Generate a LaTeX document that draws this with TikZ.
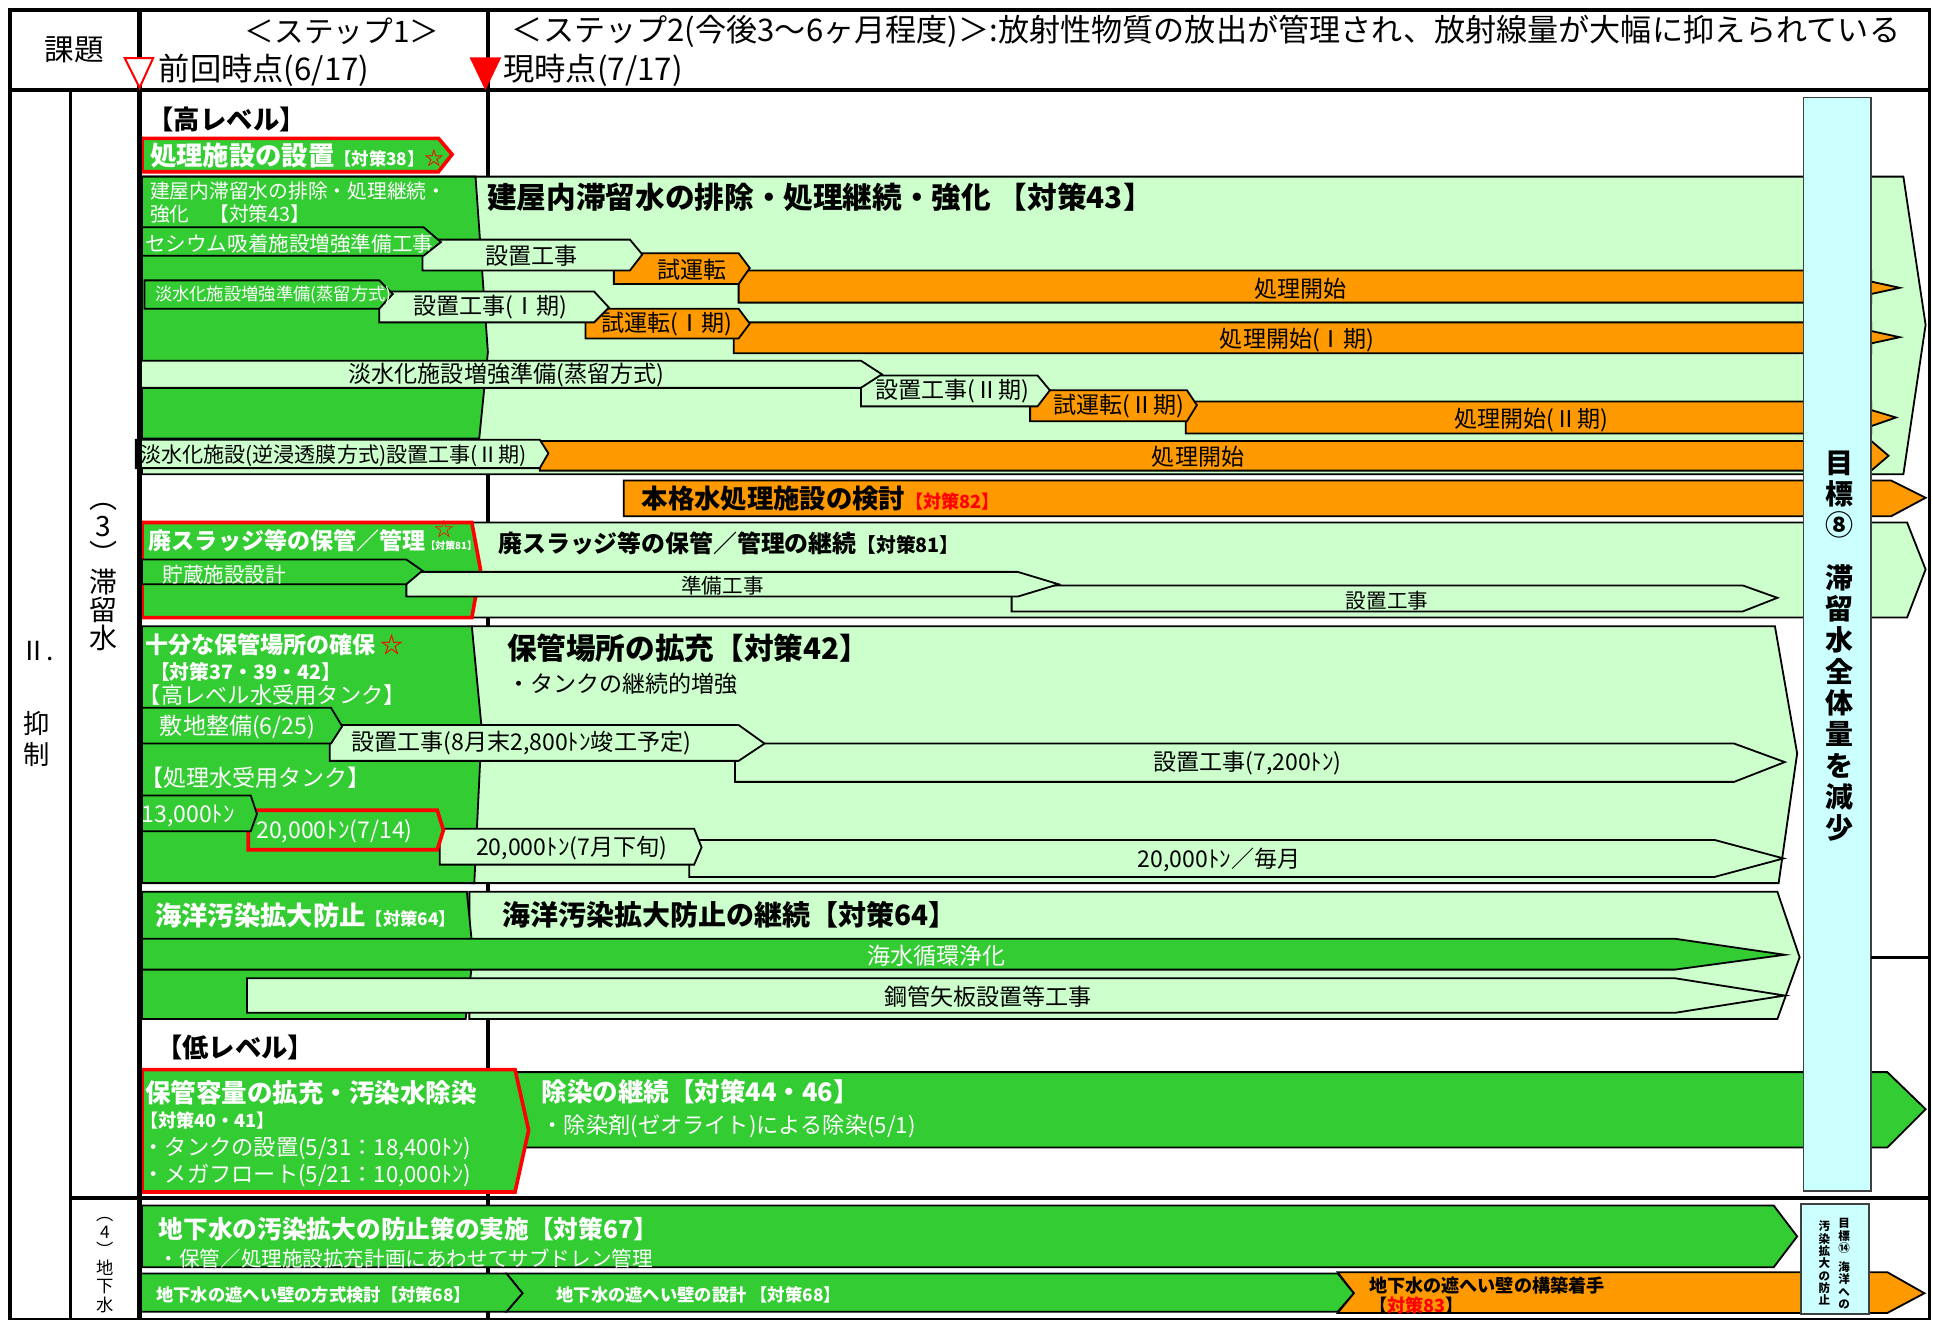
\documentclass[tikz,border=0pt]{standalone}
\usepackage{fontspec}
\setmainfont{Noto Sans CJK JP}
\definecolor{dkgreen}{RGB}{51,204,51}
\definecolor{ltgreen}{RGB}{204,255,204}
\definecolor{orng}{RGB}{255,153,0}
\definecolor{goalcyan}{RGB}{204,255,255}
\newcommand{\fsz}[2]{\fontsize{#1}{#2}\selectfont}
\tikzset{every picture/.style={line width=0.75pt}}
\tikzset{
  dkbar/.style={fill=dkgreen,draw=black,line width=1.1pt},
  ltbar/.style={fill=ltgreen,draw=black,line width=1.1pt},
  orbar/.style={fill=orng,draw=black,line width=1.1pt},
  redbar/.style={fill=dkgreen,draw=red,line width=2.2pt},
  gridln/.style={line width=2pt},
  goalbox/.style={fill=goalcyan,draw=black!75,line width=1pt},
  wt/.style={text=white,inner sep=0.75pt},
  bk/.style={text=black,inner sep=0.75pt},
}

\begin{document}
\begin{tikzpicture}[x=0.75pt,y=0.75pt,yscale=-1,xscale=1]
		\useasboundingbox (0,0) rectangle (1565,1068);
		
		%Lines under the boxes
		\draw [gridln] (395,8) -- (395,1068) ;
		\draw [gridln] (57,73) -- (57,1068) ;
		
		%Shape: Arrow, treatment facility
		\draw [redbar] (115,112) -- (355,112) -- (366,125) -- (355,139) -- (115,139) -- cycle ;
		
		%Shape: Arrow, high level water
		\draw [ltbar] (115,143) -- (1541,143) -- (1559,263) -- (1541,384) -- (115,384) -- cycle ;
		\draw [dkbar] (115,143) -- (385,143) -- (395,285) -- (388,355) -- (115,355) -- cycle ;
		%row a
		\draw [orbar] (598,219) -- (1515,219) -- (1515,228) -- (1538,233) -- (1515,238) -- (1515,245) -- (598,245) -- cycle ;
		\draw [orbar] (497,205) -- (598,205) -- (607,217) -- (598,230) -- (497,230) -- cycle ;
		\draw [ltbar] (342,194) -- (510,194) -- (520,206) -- (510,219) -- (342,219) -- cycle ;
		\draw [dkbar] (115,184) -- (343,184) -- (357,196) -- (343,207) -- (115,207) -- cycle ;
		%row b
		\draw [orbar] (594,261) -- (1515,261) -- (1515,268) -- (1538,273) -- (1515,278) -- (1515,286) -- (594,286) -- cycle ;
		\draw [orbar] (474,250) -- (598,250) -- (607,262) -- (598,274) -- (474,274) -- cycle ;
		\draw [ltbar] (307,236) -- (481,236) -- (493,249) -- (481,261) -- (307,261) -- cycle ;
		\draw [dkbar] (117,227) -- (307,227) -- (318,238) -- (307,250) -- (117,250) -- cycle ;
		%row c
		\draw [orbar] (960,325) -- (1515,325) -- (1515,332) -- (1535,338) -- (1515,345) -- (1515,351) -- (960,351) -- cycle ;
		\draw [orbar] (834,316) -- (961,316) -- (969,328) -- (961,341) -- (834,341) -- cycle ;
		\draw [ltbar] (697,304) -- (840,304) -- (850,316) -- (840,329) -- (697,329) -- cycle ;
		\draw [ltbar] (114,292) -- (697,292) -- (714,303) -- (697,314) -- (114,314) -- cycle ;
		%row d
		\draw [orbar] (437,357) -- (1515,357) -- (1529,369) -- (1515,381) -- (437,381) -- cycle ;
		\draw [ltbar] (110,356) -- (437,356) -- (444,367) -- (437,379) -- (110,379) -- cycle ;
		
		%Shape: Arrow, full scale plant
		\draw [orbar] (505,389) -- (1531,389) -- (1559,403) -- (1531,418) -- (505,418) -- cycle ;
		
		%Shape: Arrow, sludge
		\draw [ltbar] (380,423) -- (1544,423) -- (1559,461) -- (1544,500) -- (380,500) -- cycle ;
		\draw [redbar] (115,423) -- (382,423) -- (389,461) -- (382,500) -- (115,500) -- cycle ;
		\draw [ltbar] (819,474) -- (1411,474) -- (1439,484) -- (1411,495) -- (819,495) -- cycle ;
		\draw [ltbar] (329,463) -- (824,463) -- (857,473) -- (824,483) -- (329,483) -- cycle ;
		\draw [dkbar] (115,453) -- (329,453) -- (342,462) -- (329,473) -- (115,473) -- cycle ;
		
		%Shape: Arrow, storage
		\draw [ltbar] (382,507) -- (1437,507) -- (1455,610) -- (1440,715) -- (382,715) -- cycle ;
		\draw [dkbar] (115,507) -- (382,507) -- (390,590) -- (384,715) -- (115,715) -- cycle ;
		\draw [ltbar] (558,680) -- (1388,680) -- (1444,695) -- (1388,710) -- (558,710) -- cycle ;
		\draw [ltbar] (356,671) -- (562,671) -- (568,686) -- (562,700) -- (356,700) -- cycle ;
		\draw [redbar] (201,656) -- (354,656) -- (359,672) -- (354,688) -- (201,688) -- cycle ;
		\draw [dkbar] (115,644) -- (203,644) -- (208,659) -- (203,673) -- (115,673) -- cycle ;
		\draw [ltbar] (595,602) -- (1404,602) -- (1445,617) -- (1404,633) -- (595,633) -- cycle ;
		\draw [ltbar] (267,587) -- (598,587) -- (619,602) -- (598,616) -- (267,616) -- cycle ;
		\draw [dkbar] (115,573) -- (268,573) -- (277,588) -- (268,602) -- (115,602) -- cycle ;
		
		%Shape: Arrow, sea
		\draw [ltbar] (380,722) -- (1439,722) -- (1457,775) -- (1439,825) -- (380,825) -- cycle ;
		\draw [dkbar] (115,722) -- (378,722) -- (383,773) -- (377,825) -- (115,825) -- cycle ;
		\draw [dkbar] (115,760) -- (1356,760) -- (1445,773) -- (1356,785) -- (115,785) -- cycle ;
		\draw [ltbar] (200,792) -- (1356,792) -- (1445,806) -- (1356,820) -- (200,820) -- cycle ;
		
		%Shape: Arrow, low level water
		\draw [dkbar] (417,868) -- (1528,868) -- (1559,898) -- (1528,929) -- (417,929) -- cycle ;
		\draw [redbar] (115,866) -- (417,866) -- (428,915) -- (417,965) -- (115,965) -- cycle ;
		
		%Shape: Arrow, ground water
		\draw [dkbar] (115,976) -- (1436,976) -- (1455,1001) -- (1436,1026) -- (115,1026) -- cycle ;
		\draw [orbar] (1083,1030) -- (1528,1030) -- (1558,1047) -- (1528,1063) -- (1083,1063) -- (1096,1047) -- cycle ;
		\draw [dkbar] (410,1031) -- (1083,1031) -- (1096,1047) -- (1083,1062) -- (410,1062) -- (423,1047) -- cycle ;
		\draw [dkbar] (114,1031) -- (410,1031) -- (423,1047) -- (410,1062) -- (114,1062) -- cycle ;
		
		%Shape: Goal boxes
		\draw [goalbox] (1460,79) rectangle (1515,964) ;
		\draw [goalbox] (1458,975) rectangle (1513,1064) ;
		
		%Frame
		\draw [gridln] (8,8) rectangle (1562,1068) ;
		\draw [gridln,line width=2.6pt] (8,73) -- (1562,73) ;
		\draw [gridln,line width=2.6pt] (113,8) -- (113,1068) ;
		\draw [gridln,line width=2.6pt] (57,970) -- (1562,970) ;
		\draw [gridln] (1515,775) -- (1562,775) ;
		%Shape: Triangles
		\draw [draw=red,fill=white,line width=1.2pt] (101,47) -- (124,47) -- (113,71) -- cycle ;
		\draw [draw=red,fill=red] (381,47) -- (405,47) -- (393,72) -- cycle ;
		
		%Header
		\draw (60,40) node (kadai) [bk,font=\fsz{18}{21}] {課題};
		\draw (277,25) node (step1) [bk,font=\fsz{18}{21}] {＜ステップ1＞};
		\draw (127,57) node (prev) [bk,anchor=west,font=\fsz{19}{21}] {前回時点(6/17)};
		\draw (406,57) node (now) [bk,anchor=west,font=\fsz{19}{21}] {現時点(7/17)};
		\draw (413,25) node (step2) [bk,anchor=west,font=\fsz{18.9}{21}] {＜ステップ2(今後3～6ヶ月程度)＞:放射性物質の放出が管理され、放射線量が大幅に抑えられている};
		
		%Left column
		\draw (30,527) node (sec2) [bk,font=\fsz{16}{19}] {Ⅱ.};
		\draw (30,598) node (yokusei) [bk,align=center,font=\fsz{16}{19}] {抑\\制};
		\draw (84,467) node (sec3) [bk,align=center,font=\fsz{17}{17}] {︵\\3\\︶\\滞\\留\\水};
		\draw (85,1024) node (sec4) [bk,align=center,font=\fsz{10.5}{11}] {︵\\4\\︶\\地\\下\\水};
		
		%High level texts
		\draw (118,97) node (hilv) [bk,anchor=west,font=\bfseries\fsz{16}{19}] {【高レベル】};
		\draw (120,126) node (n38) [wt,anchor=west,font=\bfseries\fsz{16}{19}] {処理施設の設置{\fsz{10.5}{12}【対策38】}{\fsz{12}{14}\color{red}☆}};
		\draw (120,164) node (n43s) [wt,anchor=west,align=left,font=\fsz{12}{14.25}] {建屋内滞留水の排除・処理継続・\\強化　【対策43】};
		\draw (393,160) node (n43) [bk,anchor=west,font=\bfseries\fsz{18}{21}] {建屋内滞留水の排除・処理継続・強化 【対策43】};
		\draw (116,197) node (cs) [wt,anchor=west,font=\fsz{12.5}{14}] {セシウム吸着施設増強準備工事};
		\draw (430,207) node (cs1) [bk,font=\fsz{14}{16}] {設置工事};
		\draw (560,218) node (cs2) [bk,font=\fsz{14}{16}] {試運転};
		\draw (1053,234) node (cs3) [bk,font=\fsz{14}{16}] {処理開始};
		\draw (124,239) node (ds) [wt,anchor=west,font=\fsz{10.5}{12}] {淡水化施設増強準備(蒸留方式)};
		\draw (397,249) node (ds1) [bk,font=\fsz{14}{16}] {設置工事(Ⅰ期)};
		\draw (540,262) node (ds2) [bk,font=\fsz{14}{16}] {試運転(Ⅰ期)};
		\draw (1050,275) node (ds3) [bk,font=\fsz{14}{16}] {処理開始(Ⅰ期)};
		\draw (410,304) node (dt) [bk,font=\fsz{14}{16}] {淡水化施設増強準備(蒸留方式)};
		\draw (771,317) node (dt1) [bk,font=\fsz{14}{16}] {設置工事(Ⅱ期)};
		\draw (906,329) node (dt2) [bk,font=\fsz{14}{16}] {試運転(Ⅱ期)};
		\draw (1240,340) node (dt3) [bk,font=\fsz{14}{16}] {処理開始(Ⅱ期)};
		\draw (112,369) node (ro) [bk,anchor=west,font=\fsz{12.8}{15}] {淡水化施設(逆浸透膜方式)設置工事(Ⅱ期)};
		\draw (970,370) node (ro1) [bk,font=\fsz{14}{16}] {処理開始};
		\draw (518,404) node (n82) [bk,anchor=west,font=\bfseries\fsz{16}{19}] {本格水処理施設の検討{\fsz{11}{13}\color{red}【対策82】}};
		
		\draw (119,438) node (n81) [wt,anchor=west,font=\bfseries\fsz{14}{16}] {廃スラッジ等の保管／管理{\fsz{6}{7}【対策81】}};
		\draw (360,428) node (st81) [text=red,inner sep=0pt,font=\fsz{12}{14}] {☆};
		\draw (130,465) node (chz) [wt,anchor=west,font=\fsz{12.5}{14}] {貯蔵施設設計};
		\draw (402,440) node (n81b) [bk,anchor=west,font=\bfseries\fsz{14.5}{17}] {廃スラッジ等の保管／管理の継続{\fsz{12}{14}【対策81】}};
		\draw (585,474) node (jb) [bk,font=\fsz{12.5}{14}] {準備工事};
		\draw (1123,486) node (sc) [bk,font=\fsz{12.5}{14}] {設置工事};
		
		\draw (116,522) node (n37) [wt,anchor=west,font=\bfseries\fsz{14}{16}] {十分な保管場所の確保 {\color{red}☆}};
		\draw (120,544) node (n37b) [wt,anchor=west,font=\bfseries\fsz{12}{14}] {【対策37・39・42】};
		\draw (111,563) node (hlt) [wt,anchor=west,font=\fsz{13.5}{15}] {【高レベル水受用タンク】};
		\draw (409,525) node (n42) [bk,anchor=west,font=\bfseries\fsz{18}{21}] {保管場所の拡充【対策42】};
		\draw (409,554) node (n42s) [bk,anchor=west,font=\fsz{14}{16}] {・タンクの継続的増強};
		\draw (128,589) node (sk) [wt,anchor=west,font=\fsz{14}{16}] {敷地整備(6/25)};
		\draw (283,602) node (sk1) [bk,anchor=west,font=\fsz{14}{16}] {設置工事(8月末2,800ﾄﾝ竣工予定)};
		\draw (1010,618) node (sk2) [bk,font=\fsz{14}{16}] {設置工事(7,200ﾄﾝ)};
		\draw (112,630) node (pwt) [wt,anchor=west,font=\fsz{14}{16}] {【処理水受用タンク】};
		\draw (113,661) node (t13) [wt,anchor=west,font=\fsz{14}{16}] {13,000ﾄﾝ};
		\draw (206,673) node (t20) [wt,anchor=west,font=\fsz{14}{16}] {20,000ﾄﾝ(7/14)};
		\draw (384,687) node (t20b) [bk,anchor=west,font=\fsz{14}{16}] {20,000ﾄﾝ(7月下旬)};
		\draw (987,696) node (t20c) [bk,font=\fsz{14}{16}] {20,000ﾄﾝ／毎月};
		
		\draw (124,741) node (n64) [wt,anchor=west,font=\bfseries\fsz{16}{19}] {海洋汚染拡大防止{\fsz{10.5}{12}【対策64】}};
		\draw (405,741) node (n64b) [bk,anchor=west,font=\bfseries\fsz{17}{20}] {海洋汚染拡大防止の継続【対策64】};
		\draw (758,774) node (ks) [wt,font=\fsz{14}{16}] {海水循環浄化};
		\draw (800,807) node (kk) [bk,font=\fsz{14}{16}] {鋼管矢板設置等工事};
		
		%Low level texts
		\draw (125,848) node (lolv) [bk,anchor=west,font=\bfseries\fsz{16}{19}] {【低レベル】};
		\draw (116,885) node (n40) [wt,anchor=west,font=\bfseries\fsz{15.5}{18}] {保管容量の拡充・汚染水除染};
		\draw (112,907) node (n40b) [wt,anchor=west,font=\bfseries\fsz{11}{13}] {【対策40・41】};
		\draw (114,930) node (n40c) [wt,anchor=west,font=\fsz{13.5}{15}] {・タンクの設置(5/31：18,400ﾄﾝ)};
		\draw (114,952) node (n40d) [wt,anchor=west,font=\fsz{13.5}{15}] {・メガフロート(5/21：10,000ﾄﾝ)};
		\draw (437,884) node (n44) [wt,anchor=west,font=\bfseries\fsz{15.5}{18}] {除染の継続【対策44・46】};
		\draw (437,912) node (n44b) [wt,anchor=west,font=\fsz{13.5}{15}] {・除染剤(ゼオライト)による除染(5/1)};
		
		%Ground water texts
		\draw (127,995) node (n67) [wt,anchor=west,font=\bfseries\fsz{15}{18}] {地下水の汚染拡大の防止策の実施【対策67】};
		\draw (127,1019) node (n67b) [wt,anchor=west,font=\fsz{12.5}{14}] {・保管／処理施設拡充計画にあわせてサブドレン管理};
		\draw (125,1048) node (n68) [wt,anchor=west,font=\bfseries\fsz{10.5}{12}] {地下水の遮へい壁の方式検討【対策68】};
		\draw (449,1048) node (n68b) [wt,anchor=west,font=\bfseries\fsz{10.5}{12}] {地下水の遮へい壁の設計 【対策68】};
		\draw (1107,1049) node (n83) [bk,anchor=west,align=left,font=\bfseries\fsz{11}{12}] {地下水の遮へい壁の構築着手\\【{\color{red}対策83}】};
		
		%Goal texts
		\draw (1489,523) node (goal8) [bk,align=center,font=\bfseries\fsz{17}{19}] {目\\標\\⑧\\[13pt]滞\\留\\水\\全\\体\\量\\を\\減\\少};
		\draw (1493,985) node (goal14a) [bk,anchor=north,align=center,font=\bfseries\fsz{7}{7.5}] {目\\標\\⑭\\[4pt]海\\洋\\へ\\の};
		\draw (1477,987) node (goal14b) [bk,anchor=north,align=center,font=\bfseries\fsz{7}{7.5}] {汚\\染\\拡\\大\\の\\防\\止};
		
	\end{tikzpicture}
\end{document}
